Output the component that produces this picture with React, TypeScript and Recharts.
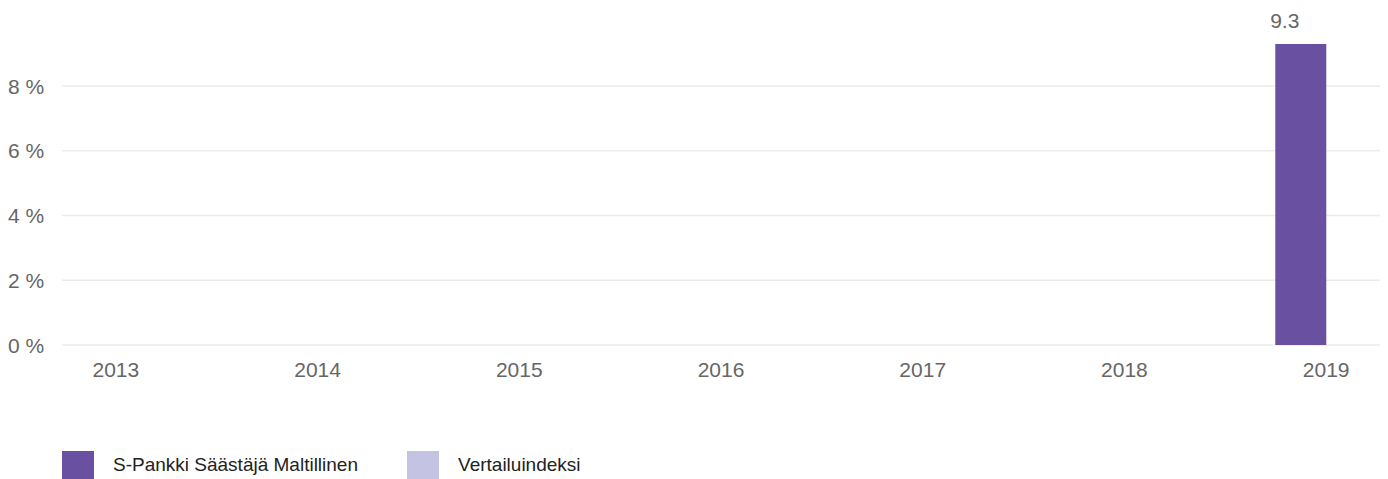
import { BarChart, Bar, XAxis, YAxis, CartesianGrid, Legend, LabelList } from "recharts";

const years = ["2013", "2014", "2015", "2016", "2017", "2018", "2019"];
const fundReturns: (number | null)[] = [null, null, null, null, null, null, 9.3];
const indexReturns: (number | null)[] = [null, null, null, null, null, null, null];
const yTicks = [0, 2, 4, 6, 8];

const FUND = "S-Pankki Säästäjä Maltillinen";
const INDEX = "Vertailuindeksi";
const FUND_COLOR = "#6a50a1";
const INDEX_COLOR = "#c4c3e3";
const TEXT_COLOR = "#666";

const data = years.map((year, i) => ({
  year,
  fund: fundReturns[i],
  index: indexReturns[i],
}));

const YTick = (props: any) => {
  const { y, payload } = props;
  return (
    <text x={8} y={y} textAnchor="start" dominantBaseline="central" fill={TEXT_COLOR} fontSize={21}>
      {`${payload.value} %`}
    </text>
  );
};

const LegendContent = () => (
  <div style={{ display: "flex", alignItems: "center", height: 28, fontFamily: "Liberation Sans, Arial, sans-serif", fontSize: 19, color: "#222" }}>
    {[
      { name: FUND, color: FUND_COLOR },
      { name: INDEX, color: INDEX_COLOR },
    ].map((item) => (
      <div key={item.name} style={{ display: "flex", alignItems: "center", marginRight: 49 }}>
        <span style={{ display: "inline-block", width: 32, height: 28, background: item.color, marginRight: 19 }} />
        <span>{item.name}</span>
      </div>
    ))}
  </div>
);

// gridlines only at the labelled ticks (no line at the top of the plot)
const gridRows = (props: any) => {
  const axis = props.yAxis;
  if (axis && typeof axis.scale === "function") {
    return yTicks.map((t) => axis.scale(t));
  }
  const { top, height } = props.offset;
  return yTicks.map((t) => top + height * (1 - t / 9.3));
};

export default function App() {
  return (
    <div style={{ position: "absolute", left: 0, top: 0, background: "#fff" }}>
      <BarChart
        width={1388}
        height={479}
        data={data}
        margin={{ top: 44, right: 8, left: 0, bottom: 0 }}
        barGap={0}
        barSize={51}
        style={{ fontFamily: "Liberation Sans, Arial, sans-serif" }}
      >
        <CartesianGrid vertical={false} stroke="#ebebeb" strokeWidth={1.5} horizontalCoordinatesGenerator={gridRows} />
        <XAxis
          dataKey="year"
          axisLine={false}
          tickLine={false}
          padding={{ left: -47, right: -47 }}
          height={106}
          tick={{ fill: TEXT_COLOR, fontSize: 21, dy: 9 }}
        />
        <YAxis
          width={62}
          domain={[0, 9.3]}
          ticks={yTicks}
          axisLine={false}
          tickLine={false}
          tick={<YTick />}
        />
        <Legend
          verticalAlign="bottom"
          content={<LegendContent />}
          wrapperStyle={{ left: 62, bottom: 0, width: "auto" }}
        />
        <Bar dataKey="fund" name={FUND} fill={FUND_COLOR} isAnimationActive={false}>
          <LabelList dataKey="fund" position="top" offset={16} dx={-16} fill={TEXT_COLOR} fontSize={21} />
        </Bar>
        <Bar dataKey="index" name={INDEX} fill={INDEX_COLOR} isAnimationActive={false} />
      </BarChart>
    </div>
  );
}
